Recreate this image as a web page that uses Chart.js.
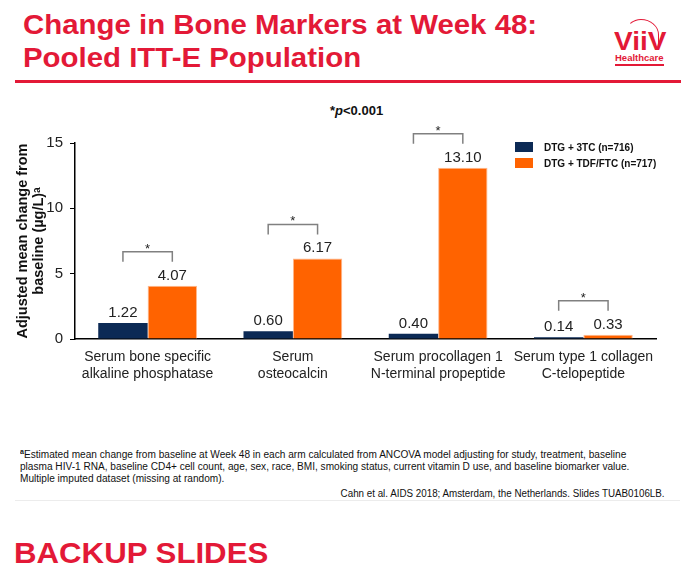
<!DOCTYPE html>
<html lang="en">
<head>
    <meta charset="utf-8"/>
    <title>Change in Bone Markers at Week 48</title>
    <script src="https://cdn.jsdelivr.net/npm/chart.js"></script>
    <style>
        body {
            margin: 0;
            width: 700px;
            height: 586px;
            background: #ffffff;
            font-family: 'Liberation Sans', Arial, sans-serif;
            position: relative;
            overflow: hidden;
        }
        .abs { position: absolute; white-space: nowrap; }
        .title {
            left: 23px;
            top: 8px;
            color: #e31937;
            font-weight: bold;
            font-size: 28px;
            line-height: 33px;
            transform: scaleX(1.05);
            transform-origin: left top;
        }
        .red-rule {
            left: 15px; top: 80px; width: 666px; height: 3px;
            background: #e31937;
        }
        .logo-arc {
            left: 626px; top: 19px; width: 31px; height: 28px;
            border-top: 1.5px solid #e31937;
            border-left: 1px solid transparent;
            border-right: 1.5px solid #e31937;
            border-radius: 50% 60% 0 0;
        }
        .logo-text {
            left: 614px; top: 29px;
            color: #e31937; font-weight: bold; font-size: 25px; line-height: 25px;
            transform: scaleX(1.12); transform-origin: left top;
        }
        .logo-sub {
            left: 615px; top: 53px;
            color: #e31937; font-weight: bold; font-size: 9.5px; line-height: 10px;
            border-bottom: 2px solid #e31937;
            padding-bottom: 1px;
        }
        .pval {
            left: 330px; top: 103px;
            font-weight: bold; font-size: 13px; color: #111;
        }
        .legend { left: 515px; top: 142px; font-size: 10px; font-weight: bold; color: #111; }
        .legend div { height: 16px; line-height: 12px; }
        .legend span.sw {
            display: inline-block; width: 18px; height: 10px;
            vertical-align: -1px; margin-right: 11px;
        }
        #chartBox { left: 0; top: 120px; width: 700px; height: 280px; }
        .foot {
            left: 20px; top: 446px;
            font-size: 10px; line-height: 12px; color: #111;
            transform: scaleX(1.01); transform-origin: left top;
        }
        .foot sup { font-size: 7px; font-weight: bold; }
        .cite {
            right: 35px; top: 488px;
            font-size: 10px; line-height: 12px; color: #111;
            transform: scaleX(0.98); transform-origin: right top;
        }
        .grey-rule { left: 15px; top: 500px; width: 665px; height: 1px; background: #ececec; }
        .backup {
            left: 14px; top: 538px;
            color: #e31937; font-weight: bold; font-size: 30px; line-height: 30px;
            transform: scaleX(1.04);
            transform-origin: left top;
        }
    </style>
</head>
<body>
    <div class="abs title">Change in Bone Markers at Week 48:<br>Pooled ITT-E Population</div>
    <div class="abs red-rule"></div>
    <div class="abs logo-arc"></div>
    <div class="abs logo-text">ViiV</div>
    <div class="abs logo-sub">Healthcare</div>

    <div class="abs pval">*<i>p</i>&lt;0.001</div>
    <div class="abs" id="chartBox"><canvas id="chart"></canvas></div>
    <div class="abs legend" id="legend"></div>

    <div class="abs foot"><sup>a</sup>Estimated mean change from baseline at Week 48 in each arm calculated from ANCOVA model adjusting for study, treatment, baseline<br>plasma HIV-1 RNA, baseline CD4+ cell count, age, sex, race, BMI, smoking status, current vitamin D use, and baseline biomarker value.<br>Multiple imputed dataset (missing at random).</div>
    <div class="abs cite">Cahn et al. AIDS 2018; Amsterdam, the Netherlands. Slides TUAB0106LB.</div>
    <div class="abs grey-rule"></div>
    <div class="abs backup">BACKUP SLIDES</div>

    <script>
        // data
        const categories = [
            ['Serum bone specific', 'alkaline phosphatase'],
            ['Serum', 'osteocalcin'],
            ['Serum procollagen 1', 'N-terminal propeptide'],
            ['Serum type 1 collagen', 'C-telopeptide']
        ];
        const seriesNames = ['DTG + 3TC (n=716)', 'DTG + TDF/FTC (n=717)'];
        const dtg3tc = [1.22, 0.60, 0.40, 0.14];
        const dtgTdf = [4.07, 6.17, 13.10, 0.33];
        const significant = [true, true, true, true];
        const yTicks = [0, 5, 10, 15];
        const colors = ['#0c2a55', '#ff6300'];

        // legend (html)
        const legend = document.getElementById('legend');
        seriesNames.forEach((name, i) => {
            const row = document.createElement('div');
            row.innerHTML = `<span class="sw" style="background:${colors[i]}"></span>${name}`;
            legend.appendChild(row);
        });

        const font = "'Liberation Sans', Arial, sans-serif";

        // value labels + significance brackets
        const annotations = {
            id: 'annotations',
            afterDatasetsDraw(chart) {
                const ctx = chart.ctx;
                const metas = [chart.getDatasetMeta(0), chart.getDatasetMeta(1)];
                ctx.save();
                ctx.font = `15px ${font}`;
                ctx.fillStyle = '#222';
                ctx.textAlign = 'center';
                ctx.textBaseline = 'alphabetic';
                metas.forEach((meta, d) => {
                    meta.data.forEach((bar, j) => {
                        const v = chart.data.datasets[d].data[j];
                        ctx.fillText(v.toFixed(2), bar.x, bar.y - 6);
                    });
                });

                ctx.strokeStyle = '#808080';
                ctx.lineWidth = 1.5;
                ctx.font = `13px ${font}`;
                significant.forEach((sig, j) => {
                    if (!sig) return;
                    const b0 = metas[0].data[j];
                    const b1 = metas[1].data[j];
                    const legBottom = Math.min(b0.y, b1.y) - 24;
                    const top = legBottom - 10;
                    ctx.beginPath();
                    ctx.moveTo(b0.x, legBottom);
                    ctx.lineTo(b0.x, top);
                    ctx.lineTo(b1.x, top);
                    ctx.lineTo(b1.x, legBottom);
                    ctx.stroke();
                    ctx.fillText('*', (b0.x + b1.x) / 2, top + 1);
                });
                ctx.restore();
            }
        };

        new Chart(document.getElementById('chart'), {
            type: 'bar',
            data: {
                labels: categories,
                datasets: [
                    { label: seriesNames[0], data: dtg3tc, backgroundColor: colors[0] },
                    { label: seriesNames[1], data: dtgTdf, backgroundColor: colors[1], borderColor: '#ffb88c', borderWidth: 1 }
                ]
            },
            options: {
                responsive: true,
                maintainAspectRatio: false,
                animation: false,
                categoryPercentage: 0.68,
                barPercentage: 1,
                layout: { padding: { top: 23, right: 44, left: 0, bottom: 0 } },
                plugins: {
                    legend: { display: false },
                    tooltip: { enabled: false }
                },
                scales: {
                    x: {
                        grid: { display: false, drawTicks: false },
                        border: { display: true, color: '#000', width: 1.5 },
                        ticks: {
                            color: '#222',
                            font: { family: font, size: 14 },
                            padding: 10,
                            maxRotation: 0,
                            autoSkip: false
                        },
                        afterFit(scale) { scale.height = 61; }
                    },
                    y: {
                        min: 0,
                        max: 15,
                        afterBuildTicks(scale) { scale.ticks = yTicks.map(v => ({ value: v })); },
                        grid: { drawOnChartArea: false, drawTicks: true, tickLength: 5, color: '#000' },
                        border: { display: true, color: '#000', width: 1.5 },
                        ticks: {
                            color: '#222',
                            font: { family: font, size: 15 },
                            padding: 7
                        },
                        title: {
                            display: true,
                            text: ['Adjusted mean change from', 'baseline (µg/L)ᵃ'],
                            color: '#111',
                            font: { family: font, size: 14.5, weight: 'bold', lineHeight: 1.1 },
                            padding: { top: 15, bottom: 0 }
                        },
                        afterFit(scale) { scale.width = 75; }
                    }
                }
            },
            plugins: [annotations]
        });
    </script>
</body>
</html>
